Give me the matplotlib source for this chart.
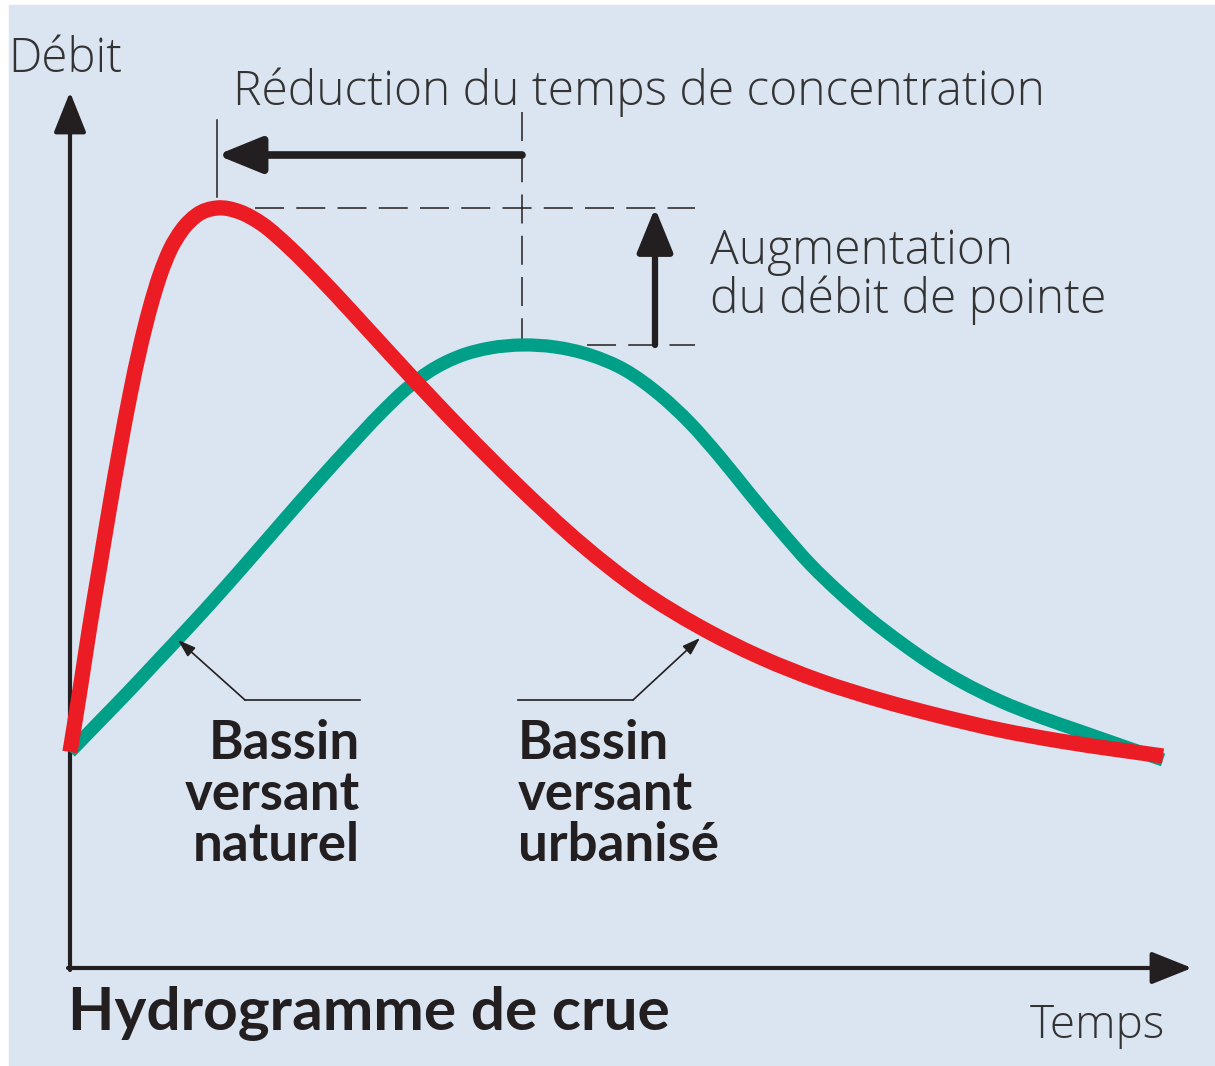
import matplotlib
matplotlib.use("Agg")
import matplotlib.pyplot as plt
from matplotlib.patches import Rectangle, PathPatch
from matplotlib.path import Path
import numpy as np

# hydrographs (time, discharge in arbitrary units)
urban_t = [0.00, 0.10, 0.20, 0.30, 0.40, 0.50, 0.60, 0.70, 0.80, 0.90, 1.00, 1.12, 1.27,
           1.47, 1.70, 1.92, 2.20, 2.50, 2.80, 3.35, 3.90, 4.47, 5.10, 5.70, 6.30, 6.90,
           7.50, 8.10, 8.70, 9.30, 9.90, 10.50, 10.93]
urban_q = [2.16, 2.78, 3.43, 4.03, 4.63, 5.20, 5.73, 6.20, 6.60, 6.93, 7.18, 7.38, 7.53,
           7.60, 7.56, 7.44, 7.20, 6.90, 6.58, 5.98, 5.40, 4.83, 4.25, 3.78, 3.41, 3.11,
           2.87, 2.68, 2.52, 2.38, 2.27, 2.18, 2.12]

natural_t = [0.00, 0.30, 0.60, 0.90, 1.20, 1.50, 1.80, 2.13, 2.50, 2.80, 3.10, 3.35, 3.60,
             3.90, 4.20, 4.52, 4.85, 5.20, 5.55, 5.90, 6.20, 6.50, 6.80, 7.10, 7.40, 7.70,
             8.00, 8.30, 8.60, 8.90, 9.30, 9.70, 10.10, 10.50, 10.93]
natural_q = [2.16, 2.47, 2.78, 3.10, 3.42, 3.75, 4.09, 4.47, 4.89, 5.22, 5.54, 5.78, 5.97,
             6.12, 6.20, 6.23, 6.21, 6.13, 5.98, 5.73, 5.45, 5.11, 4.74, 4.38, 4.04, 3.75,
             3.49, 3.26, 3.05, 2.87, 2.67, 2.51, 2.37, 2.23, 2.08]

RED = "#ec1c24"
GREEN = "#00a088"
INK = "#231f20"
GREY = "#333333"
BG = "#dae5f1"

LIGHT = dict(family="Open Sans", weight="light", color=GREY)
BOLD = dict(family="Lato", weight="bold", color=INK)


def smooth_path(x, y):
    """Cubic Hermite curve through the points (slopes from neighbouring secants)."""
    x = np.asarray(x, float)
    y = np.asarray(y, float)
    h = np.diff(x)
    d = np.diff(y) / h
    m = np.empty_like(y)
    m[0], m[-1] = d[0], d[-1]
    m[1:-1] = (h[1:] * d[:-1] + h[:-1] * d[1:]) / (h[:-1] + h[1:])
    verts = [(x[0], y[0])]
    codes = [Path.MOVETO]
    for i in range(len(h)):
        verts += [(x[i] + h[i] / 3, y[i] + m[i] * h[i] / 3),
                  (x[i + 1] - h[i] / 3, y[i + 1] - m[i + 1] * h[i] / 3),
                  (x[i + 1], y[i + 1])]
        codes += [Path.CURVE4] * 3
    return Path(verts, codes)


fig = plt.figure(figsize=(12.15, 10.66), dpi=100)
ax = fig.add_axes([0, 0, 1, 1])
ax.set_xlim(-0.70, 11.45)
ax.set_ylim(-0.98, 9.68)
ax.patch.set_alpha(0)
ax.axis("off")
# light blue panel (white strip on the left and top)
ax.add_patch(Rectangle((9 / 1215, 0), 1206 / 1215, 1061 / 1066, transform=fig.transFigure,
                       color=BG, zorder=0, clip_on=False))

# axes with arrow heads
axis_arrow = dict(arrowstyle="-|>,head_length=1.25,head_width=0.5", lw=3,
                  color=INK, shrinkA=0, shrinkB=0, mutation_scale=20)
ax.annotate("", xy=(0, 8.76), xytext=(0, -0.02), arrowprops=axis_arrow)
ax.annotate("", xy=(11.22, 0), xytext=(-0.02, 0), arrowprops=axis_arrow)

# curves
ax.add_patch(PathPatch(smooth_path(natural_t, natural_q), fill=False, edgecolor=GREEN,
                       lw=9.5, capstyle="butt", joinstyle="round", zorder=3))
ax.add_patch(PathPatch(smooth_path(urban_t, urban_q), fill=False, edgecolor=RED,
                       lw=11, capstyle="butt", joinstyle="round", zorder=4))

# peaks
iu = int(np.argmax(urban_q))
inat = int(np.argmax(natural_q))
tu, qu = urban_t[iu], urban_q[iu]
tn, qn = natural_t[inat], natural_q[inat]

dash = dict(color=INK, lw=1.1, ls=(0, (19, 8)), zorder=2)
ax.plot([tu + 0.38, 6.25], [qu, qu], **dash)
ax.plot([tn + 0.65, 6.25], [qn, qn], **dash)
ax.plot([tn, tn], [8.56, qn], **dash)
ax.plot([tu, tu], [8.48, 7.71], color=INK, lw=1.1, zorder=2)

# time-to-peak reduction arrow
ax.annotate("", xy=(tu, 8.13), xytext=(tn, 8.13),
            arrowprops=dict(arrowstyle="-|>,head_length=1.35,head_width=0.55", lw=5.5,
                            color=INK, shrinkA=0, shrinkB=0, mutation_scale=20))
# peak increase arrow
ax.annotate("", xy=(5.85, qu), xytext=(5.85, qn),
            arrowprops=dict(arrowstyle="-|>,head_length=1.35,head_width=0.55", lw=4.5,
                            color=INK, shrinkA=0, shrinkB=0, mutation_scale=20))

# leader lines
thin = dict(arrowstyle="-|>,head_length=0.9,head_width=0.3", lw=1.2, color=INK,
            shrinkA=0, shrinkB=0, mutation_scale=12)
ax.plot([2.90, 1.75], [2.68, 2.68], color=INK, lw=1.2)
ax.annotate("", xy=(1.08, 3.28), xytext=(1.75, 2.68), arrowprops=thin)
ax.plot([4.48, 5.63], [2.68, 2.68], color=INK, lw=1.2)
ax.annotate("", xy=(6.30, 3.30), xytext=(5.63, 2.68), arrowprops=thin)

# texts (multi-line baselines refer to the last line)
ax.text(-0.62, 8.96, "Débit", fontsize=34, va="baseline", ha="left", **LIGHT)
ax.text(1.63, 8.63, "Réduction du temps de concentration", fontsize=34.5,
        va="baseline", ha="left", **LIGHT)
ax.text(6.40, 6.55, "Augmentation\ndu débit de pointe", fontsize=34.5,
        va="baseline", ha="left", linespacing=1.0, **LIGHT)
ax.text(2.90, 1.07, "Bassin\nversant\nnaturel", fontsize=38, va="baseline",
        ha="right", multialignment="right", linespacing=1.05, **BOLD)
ax.text(4.48, 1.07, "Bassin\nversant\nurbanisé", fontsize=38, va="baseline",
        ha="left", multialignment="left", linespacing=1.05, **BOLD)
ax.text(-0.02, -0.62, "Hydrogramme de crue", fontsize=43.5, va="baseline",
        ha="left", **BOLD)
ax.text(10.95, -0.70, "Temps", fontsize=33, va="baseline", ha="right", **LIGHT)

fig.savefig("out.png", dpi=100, facecolor="white")
